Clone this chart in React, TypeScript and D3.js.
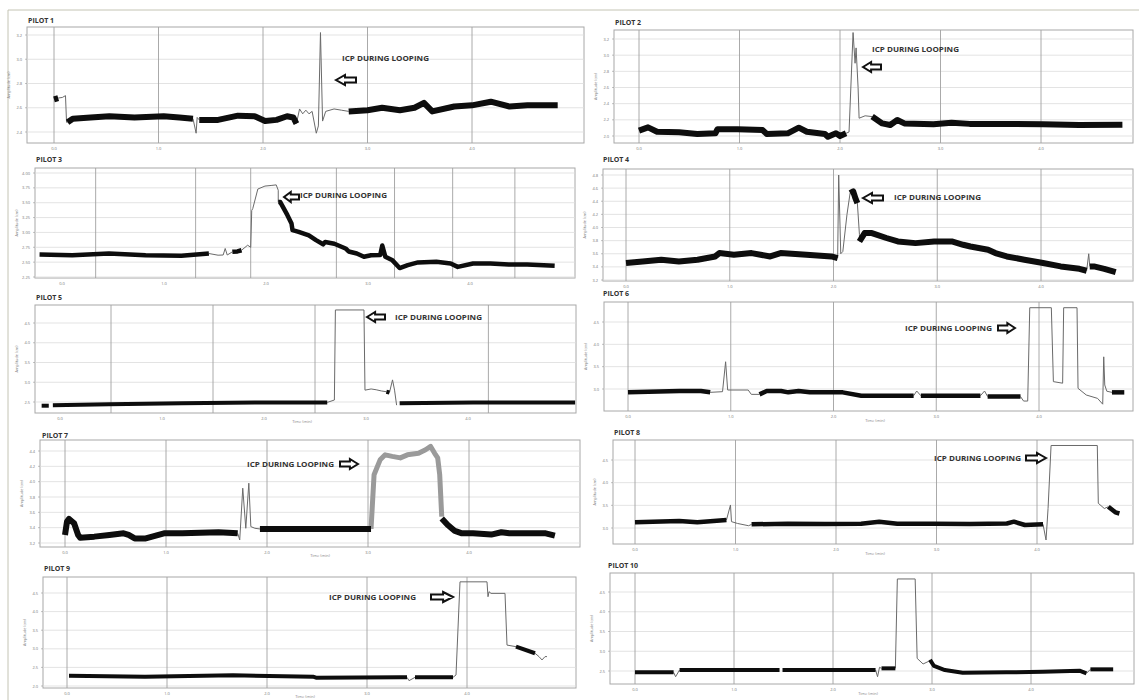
import React from 'react';
import * as d3 from 'd3';

type Pt = [number, number];

const X_TICKS = [0, 1, 2, 3, 4];
const X_TICK_LABELS = ['0.0', '1.0', '2.0', '3.0', '4.0'];
const ANNOTATION = 'ICP DURING LOOPING';
const Y_LABEL = 'Amplitude (cm)';
const X_LABEL = 'Time (min)';

// ---------- Pilot 1 ----------
const p1YTicks = [2.4, 2.6, 2.8, 3.0, 3.2];
const p1Thick: Pt[][] = [
  [[0, 2.67], [0.04, 2.68]],
  [[0.13, 2.48], [0.18, 2.51], [0.35, 2.52], [0.53, 2.53], [0.77, 2.52], [1.05, 2.53], [1.2, 2.52], [1.33, 2.51]],
  [[1.39, 2.5], [1.57, 2.5], [1.76, 2.535], [1.92, 2.53], [2.02, 2.49], [2.13, 2.5], [2.23, 2.53], [2.29, 2.52], [2.32, 2.47]],
  [[2.82, 2.57], [3.0, 2.58], [3.14, 2.6], [3.31, 2.58], [3.45, 2.6], [3.54, 2.64], [3.62, 2.57], [3.83, 2.61], [4.0, 2.62], [4.18, 2.65], [4.36, 2.61], [4.53, 2.62], [4.82, 2.62]],
];
const p1Thin: Pt[][] = [
  [[0.04, 2.68], [0.08, 2.685], [0.11, 2.7], [0.12, 2.48], [0.13, 2.48]],
  [[1.33, 2.51], [1.36, 2.39], [1.37, 2.52], [1.39, 2.5]],
  [[2.32, 2.47], [2.35, 2.59], [2.38, 2.55], [2.41, 2.58], [2.44, 2.55], [2.47, 2.57], [2.51, 2.39], [2.53, 2.45], [2.55, 3.22], [2.57, 2.49], [2.6, 2.57], [2.68, 2.59], [2.75, 2.58], [2.82, 2.57]],
];

// ---------- Pilot 2 ----------
const p2YTicks = [2.0, 2.2, 2.4, 2.6, 2.8, 3.0, 3.2];
const p2Thick: Pt[][] = [
  [[0, 2.066], [0.09, 2.107], [0.18, 2.053], [0.4, 2.045], [0.58, 2.025], [0.76, 2.033], [0.78, 2.082], [0.98, 2.082], [1.23, 2.074], [1.27, 2.025], [1.48, 2.033], [1.59, 2.103], [1.67, 2.053], [1.85, 2.025], [1.88, 1.99], [1.96, 2.033], [2.0, 2.0], [2.06, 2.033]],
  [[2.32, 2.24], [2.42, 2.156], [2.5, 2.136], [2.57, 2.198], [2.64, 2.156], [2.93, 2.144], [3.11, 2.165], [3.29, 2.15], [3.66, 2.15], [4.02, 2.144], [4.38, 2.136], [4.81, 2.14]],
];
const p2Thin: Pt[][] = [
  [[2.06, 2.033], [2.09, 2.05], [2.13, 3.28], [2.15, 2.9], [2.16, 3.09], [2.18, 2.6], [2.19, 2.22], [2.25, 2.25], [2.32, 2.24]],
];

// ---------- Pilot 3 ----------
const p3YTicks = [2.25, 2.5, 2.75, 3.0, 3.25, 3.5, 3.75, 4.0];
const p3GridT = [0.33, 1.31, 1.85, 2.69, 3.26, 3.83, 4.44];
const p3Thick: Pt[][] = [
  [[-0.22, 2.629], [0.1, 2.617], [0.46, 2.645], [0.82, 2.617], [1.17, 2.606], [1.44, 2.645]],
  [[1.67, 2.673], [1.72, 2.68], [1.76, 2.7]],
  [[2.12, 3.51], [2.14, 3.51], [2.21, 3.29], [2.25, 3.15], [2.26, 3.04], [2.32, 3.01], [2.42, 2.95], [2.49, 2.87], [2.56, 2.8], [2.58, 2.84], [2.67, 2.81], [2.78, 2.73], [2.81, 2.68], [2.89, 2.645], [2.96, 2.59], [3.03, 2.617], [3.12, 2.62], [3.14, 2.78], [3.17, 2.59], [3.24, 2.53], [3.31, 2.4], [3.39, 2.45], [3.49, 2.495], [3.67, 2.505], [3.81, 2.478], [3.88, 2.42], [4.03, 2.478], [4.2, 2.478], [4.38, 2.46], [4.56, 2.46], [4.83, 2.44]],
];
const p3Thin: Pt[][] = [
  [[1.44, 2.645], [1.53, 2.617], [1.58, 2.62], [1.6, 2.73], [1.62, 2.62], [1.67, 2.673]],
  [[1.76, 2.7], [1.82, 2.785], [1.85, 2.75], [1.86, 3.37], [1.87, 3.4], [1.92, 3.73], [1.99, 3.78], [2.05, 3.79], [2.1, 3.8], [2.12, 3.71], [2.12, 3.51]],
];

// ---------- Pilot 4 ----------
const p4YTicks = [3.2, 3.4, 3.6, 3.8, 4.0, 4.2, 4.4, 4.6, 4.8];
const p4Thick: Pt[][] = [
  [[0, 3.458], [0.16, 3.483], [0.34, 3.509], [0.51, 3.483], [0.69, 3.509], [0.86, 3.559], [0.9, 3.61], [1.04, 3.585], [1.21, 3.61], [1.39, 3.559], [1.49, 3.61], [1.74, 3.585], [1.98, 3.559], [2.04, 3.534]],
  [[2.16, 4.525], [2.19, 4.55], [2.21, 4.45], [2.23, 4.373]],
  [[2.25, 3.787], [2.3, 3.915], [2.37, 3.915], [2.51, 3.84], [2.62, 3.787], [2.79, 3.762], [2.97, 3.787], [3.14, 3.787], [3.25, 3.737], [3.32, 3.711], [3.49, 3.661], [3.56, 3.61], [3.67, 3.559], [3.84, 3.509], [4.02, 3.458], [4.19, 3.407], [4.37, 3.37], [4.44, 3.341]],
  [[4.47, 3.407], [4.51, 3.407], [4.61, 3.37], [4.72, 3.32]],
];
const p4Thin: Pt[][] = [
  [[2.04, 3.534], [2.05, 4.8], [2.07, 3.6], [2.09, 3.635], [2.13, 4.2], [2.16, 4.525]],
  [[2.23, 4.373], [2.25, 3.89], [2.25, 3.787]],
  [[4.44, 3.341], [4.46, 3.6], [4.47, 3.407]],
];

// ---------- Pilot 5 ----------
const p5YTicks = [2.5, 3.0, 3.5, 4.0, 4.5];
const p5GridT = [0.5, 1.5, 2.5, 4.2];
const p5Thick: Pt[][] = [
  [[-0.18, 2.406], [-0.11, 2.406]],
  [[-0.07, 2.42], [0.48, 2.44], [1.19, 2.466], [1.91, 2.49], [2.62, 2.49]],
  [[3.2, 2.76], [3.23, 2.74]],
  [[3.33, 2.466], [4.05, 2.49], [5.05, 2.49]],
];
const p5Thin: Pt[][] = [
  [[2.62, 2.49], [2.69, 2.55], [2.7, 4.83], [2.98, 4.83], [2.99, 2.8], [3.05, 2.83], [3.1, 2.81], [3.15, 2.78], [3.2, 2.76]],
  [[3.23, 2.74], [3.26, 3.06], [3.28, 2.8], [3.3, 2.42]],
];

// ---------- Pilot 6 ----------
const p6YTicks = [3.0, 3.5, 4.0, 4.5];
const p6Thick: Pt[][] = [
  [[0, 2.925], [0.5, 2.955], [0.71, 2.955], [0.8, 2.925]],
  [[1.28, 2.88], [1.35, 2.955], [1.49, 2.955], [1.56, 2.925], [1.66, 2.955], [1.77, 2.925], [1.91, 2.925], [2.09, 2.925], [2.27, 2.85], [2.78, 2.85]],
  [[2.85, 2.85], [3.43, 2.85]],
  [[3.5, 2.83], [3.82, 2.83]],
  [[4.71, 2.925], [4.83, 2.925]],
];
const p6Thin: Pt[][] = [
  [[0.8, 2.925], [0.92, 2.94], [0.95, 3.61], [0.97, 2.977], [1.17, 2.977], [1.2, 2.88], [1.28, 2.88]],
  [[2.78, 2.85], [2.81, 2.955], [2.85, 2.85]],
  [[3.43, 2.85], [3.47, 2.955], [3.5, 2.83]],
  [[3.82, 2.83], [3.85, 2.73], [3.89, 2.73], [3.91, 4.82], [4.12, 4.82], [4.14, 3.165], [4.23, 3.13], [4.24, 4.82], [4.37, 4.82], [4.38, 3.015], [4.46, 2.866], [4.57, 2.79], [4.62, 2.66], [4.63, 3.72], [4.64, 3.09], [4.66, 2.95], [4.71, 2.925]],
];

// ---------- Pilot 7 ----------
const p7YTicks = [3.2, 3.4, 3.6, 3.8, 4.0, 4.2, 4.4];
const p7Thick: Pt[][] = [
  [[0, 3.305], [0.02, 3.48], [0.04, 3.514], [0.09, 3.457], [0.13, 3.305], [0.15, 3.27], [0.29, 3.283], [0.44, 3.305], [0.58, 3.326], [0.63, 3.305], [0.69, 3.26], [0.8, 3.26], [0.98, 3.326], [1.16, 3.326], [1.52, 3.34], [1.71, 3.326]],
  [[1.93, 3.383], [2.24, 3.383], [2.6, 3.383], [3.03, 3.383]],
  [[3.73, 3.52], [3.79, 3.435], [3.86, 3.357], [3.93, 3.326], [4.04, 3.326], [4.22, 3.31], [4.32, 3.34], [4.4, 3.326], [4.58, 3.326], [4.76, 3.326], [4.85, 3.296]],
];
const p7Thin: Pt[][] = [
  [[1.71, 3.326], [1.73, 3.24], [1.76, 3.915], [1.79, 3.392], [1.82, 3.98], [1.84, 3.414], [1.88, 3.392], [1.93, 3.383]],
];
const p7Band: Pt[][] = [
  [[3.03, 3.383], [3.06, 4.09], [3.12, 4.285], [3.17, 4.35], [3.24, 4.33], [3.32, 4.31], [3.39, 4.35], [3.5, 4.37], [3.57, 4.416], [3.62, 4.46], [3.66, 4.37], [3.69, 4.31], [3.71, 4.09], [3.73, 3.544]],
];

// ---------- Pilot 8 ----------
const p8YTicks = [3.0, 3.5, 4.0, 4.5];
const p8Thick: Pt[][] = [
  [[0, 3.125], [0.44, 3.155], [0.62, 3.125], [0.91, 3.177]],
  [[1.16, 3.08], [1.52, 3.096], [1.89, 3.088], [2.25, 3.096], [2.43, 3.14], [2.61, 3.096], [2.97, 3.096], [3.33, 3.088], [3.7, 3.1], [3.77, 3.14], [3.88, 3.066], [4.06, 3.08]],
  [[4.71, 3.47], [4.78, 3.345], [4.82, 3.32]],
];
const p8Thin: Pt[][] = [
  [[0.91, 3.177], [0.95, 3.508], [0.96, 3.14], [1.02, 3.1], [1.13, 3.05], [1.16, 3.08]],
  [[4.06, 3.08], [4.09, 2.735], [4.11, 3.43], [4.14, 4.82], [4.6, 4.82], [4.61, 3.545], [4.67, 3.43], [4.71, 3.47]],
];

// ---------- Pilot 9 ----------
const p9YTicks = [2.0, 2.5, 3.0, 3.5, 4.0, 4.5];
const p9Thick: Pt[][] = [
  [[0.02, 2.277], [0.78, 2.25], [1.66, 2.287], [2.46, 2.25], [2.49, 2.224], [3.33, 2.233], [3.4, 2.233]],
  [[3.48, 2.233], [3.86, 2.233]],
  [[4.49, 3.057], [4.68, 2.88]],
];
const p9Thin: Pt[][] = [
  [[3.4, 2.233], [3.42, 2.143], [3.48, 2.233]],
  [[3.86, 2.233], [3.89, 2.296], [3.93, 4.8], [4.2, 4.8], [4.21, 4.4], [4.22, 4.535], [4.24, 4.49], [4.38, 4.49], [4.4, 3.1], [4.49, 3.057]],
  [[4.68, 2.88], [4.72, 2.79], [4.75, 2.7], [4.78, 2.79], [4.8, 2.79]],
];

// ---------- Pilot 10 ----------
const p10YTicks = [2.5, 3.0, 3.5, 4.0, 4.5];
const p10Thick: Pt[][] = [
  [[0, 2.466], [0.39, 2.466]],
  [[0.45, 2.525], [1.46, 2.525]],
  [[1.49, 2.525], [1.91, 2.525], [2.43, 2.525]],
  [[2.49, 2.567], [2.63, 2.567]],
  [[2.98, 2.78], [3.02, 2.627], [3.13, 2.525], [3.31, 2.457], [3.75, 2.466], [4.12, 2.483], [4.49, 2.508], [4.56, 2.44]],
  [[4.6, 2.542], [4.83, 2.542]],
];
const p10Thin: Pt[][] = [
  [[0.39, 2.466], [0.41, 2.355], [0.45, 2.525]],
  [[2.43, 2.525], [2.45, 2.355], [2.47, 2.593], [2.49, 2.567]],
  [[2.63, 2.567], [2.65, 4.83], [2.83, 4.83], [2.85, 2.82], [2.91, 2.678], [2.96, 2.737], [2.98, 2.78]],
  [[4.56, 2.44], [4.6, 2.542]],
];

// ---------- layout (pixels / styles) ----------
type Panel = {
  title: string; tx: number; ty: number;
  box: [number, number, number, number];
  xr: [number, number]; yd: [number, number]; yr: [number, number];
  yTicks: number[]; yFmt: string; grid: number[];
  thick: Pt[][]; thin: Pt[][]; band?: Pt[][]; w: number;
  ann?: { x: number; y: number; ax: number; ay: number; dir: 'l' | 'r'; len: number };
  xLabel?: [number, number];
};

const PANELS: Panel[] = [
  { title: 'PILOT 1', tx: 28, ty: 23, box: [27, 27, 584, 143], xr: [54, 472], yd: [2.4, 3.2], yr: [132, 35], yTicks: p1YTicks, yFmt: '.1f', grid: X_TICKS, thick: p1Thick, thin: p1Thin, w: 6,
    ann: { x: 342, y: 58, ax: 336, ay: 80, dir: 'l', len: 20 } },
  { title: 'PILOT 2', tx: 615, ty: 25, box: [614, 30, 1133, 143], xr: [639, 1041], yd: [2.0, 3.2], yr: [136, 39], yTicks: p2YTicks, yFmt: '.1f', grid: X_TICKS, thick: p2Thick, thin: p2Thin, w: 6,
    ann: { x: 872, y: 49, ax: 863, ay: 67, dir: 'l', len: 18 } },
  { title: 'PILOT 3', tx: 36, ty: 162, box: [35, 168, 575, 278], xr: [62, 470], yd: [2.25, 4.0], yr: [277, 173], yTicks: p3YTicks, yFmt: '.2f', grid: p3GridT, thick: p3Thick, thin: p3Thin, w: 4.5,
    ann: { x: 300, y: 195, ax: 284, ay: 197, dir: 'l', len: 15 } },
  { title: 'PILOT 4', tx: 603, ty: 162, box: [603, 169, 1133, 281], xr: [626, 1041], yd: [3.2, 4.8], yr: [280, 175], yTicks: p4YTicks, yFmt: '.1f', grid: X_TICKS, thick: p4Thick, thin: p4Thin, w: 6,
    ann: { x: 894, y: 197, ax: 863, ay: 198, dir: 'l', len: 20 } },
  { title: 'PILOT 5', tx: 36, ty: 300, box: [35, 305, 576, 413], xr: [60, 468], yd: [2.5, 4.5], yr: [402, 323], yTicks: p5YTicks, yFmt: '.1f', grid: p5GridT, thick: p5Thick, thin: p5Thin, w: 4,
    ann: { x: 395, y: 317, ax: 367, ay: 317, dir: 'l', len: 18 }, xLabel: [302, 423] },
  { title: 'PILOT 6', tx: 603, ty: 296, box: [604, 302, 1133, 411], xr: [628, 1039], yd: [3.0, 4.5], yr: [389, 322], yTicks: p6YTicks, yFmt: '.1f', grid: X_TICKS, thick: p6Thick, thin: p6Thin, w: 4.5,
    ann: { x: 905, y: 328, ax: 1015, ay: 328, dir: 'r', len: 17 }, xLabel: [875, 422] },
  { title: 'PILOT 7', tx: 42, ty: 438, box: [40, 440, 580, 547], xr: [65, 469], yd: [3.2, 4.4], yr: [543, 451], yTicks: p7YTicks, yFmt: '.1f', grid: X_TICKS, thick: p7Thick, thin: p7Thin, band: p7Band, w: 6,
    ann: { x: 247, y: 464, ax: 358, ay: 464, dir: 'r', len: 18 }, xLabel: [320, 557] },
  { title: 'PILOT 8', tx: 614, ty: 435, box: [613, 440, 1133, 544], xr: [635, 1037], yd: [3.0, 4.5], yr: [528, 460], yTicks: p8YTicks, yFmt: '.1f', grid: X_TICKS, thick: p8Thick, thin: p8Thin, w: 4.5,
    ann: { x: 934, y: 458, ax: 1046, ay: 458, dir: 'r', len: 20 }, xLabel: [875, 555] },
  { title: 'PILOT 9', tx: 44, ty: 571, box: [43, 577, 576, 688], xr: [67, 467], yd: [2.0, 4.5], yr: [686, 593], yTicks: p9YTicks, yFmt: '.1f', grid: X_TICKS, thick: p9Thick, thin: p9Thin, w: 4,
    ann: { x: 329, y: 597, ax: 453, ay: 597, dir: 'r', len: 22 }, xLabel: [305, 698] },
  { title: 'PILOT 10', tx: 608, ty: 568, box: [610, 573, 1134, 684], xr: [635, 1031], yd: [2.5, 4.5], yr: [671, 592], yTicks: p10YTicks, yFmt: '.1f', grid: X_TICKS, thick: p10Thick, thin: p10Thin, w: 4,
    xLabel: [868, 695] },
];

const FONT = '"Open Sans", "DejaVu Sans", sans-serif';

function arrowPath(tipX: number, cy: number, len: number, dir: 'l' | 'r') {
  const s = dir === 'l' ? 1 : -1;
  const h = len * 0.45;
  const hh = 5;
  const sh = 2.6;
  const p = (dx: number, dy: number) => `${tipX + s * dx},${cy + dy}`;
  return `M${p(0, 0)}L${p(h, -hh)}L${p(h, -sh)}L${p(len, -sh)}L${p(len, sh)}L${p(h, sh)}L${p(h, hh)}Z`;
}

function PanelView({ p, i }: { p: Panel; i: number }) {
  const [l, t, r, b] = p.box;
  const x = d3.scaleLinear().domain([0, 4]).range(p.xr);
  const y = d3.scaleLinear().domain(p.yd).range(p.yr);
  const line = d3.line<Pt>().x((d) => x(d[0])).y((d) => y(d[1])).curve(d3.curveLinear);
  const fmt = d3.format(p.yFmt);
  const clipId = `clip${i}`;
  const midY = (t + b) / 2;
  return (
    <g>
      <defs>
        <clipPath id={clipId}>
          <rect x={l} y={t} width={r - l} height={b - t} />
        </clipPath>
      </defs>
      <text x={p.tx} y={p.ty} fontFamily={FONT} fontWeight={700} fontSize={7} fill="#333">{p.title}</text>
      <rect x={l} y={t} width={r - l} height={b - t} fill="#fff" stroke="#a8a8a8" strokeWidth={1} />
      {p.yTicks.map((v) => (
        <g key={'h' + v}>
          <line x1={l} x2={r} y1={y(v)} y2={y(v)} stroke="#dcdcdc" strokeWidth={0.8} />
          <line x1={l - 2} x2={l} y1={y(v)} y2={y(v)} stroke="#999" strokeWidth={0.6} />
          <text x={l - 5} y={y(v) + 1.5} textAnchor="end" fontFamily={FONT} fontSize={4} fill="#777">{fmt(v)}</text>
        </g>
      ))}
      {p.grid.map((g) => (
        <line key={'v' + g} x1={x(g)} x2={x(g)} y1={t} y2={b} stroke="#a0a0a0" strokeWidth={0.9} />
      ))}
      {X_TICKS.map((tv, k) => (
        <text key={'xt' + tv} x={x(tv)} y={b + 6.5} textAnchor="middle" fontFamily={FONT} fontSize={4} fill="#777">{X_TICK_LABELS[k]}</text>
      ))}
      <text transform={`translate(${l - 17},${midY}) rotate(-90)`} textAnchor="middle" fontFamily={FONT} fontSize={3.8} fill="#777">{Y_LABEL}</text>
      {p.xLabel && (
        <text x={p.xLabel[0]} y={p.xLabel[1]} textAnchor="middle" fontFamily={FONT} fontSize={4} fill="#888">{X_LABEL}</text>
      )}
      <g clipPath={`url(#${clipId})`}>
        {(p.band || []).map((seg, k) => (
          <path key={'b' + k} d={line(seg) || ''} fill="none" stroke="#9a9a9a" strokeWidth={5} strokeLinejoin="round" />
        ))}
        {p.thin.map((seg, k) => (
          <path key={'n' + k} d={line(seg) || ''} fill="none" stroke="#6a6a6a" strokeWidth={1} strokeLinejoin="round" />
        ))}
        {p.thick.map((seg, k) => (
          <path key={'k' + k} d={line(seg) || ''} fill="none" stroke="#0d0d0d" strokeWidth={p.w} strokeLinejoin="round" strokeLinecap="butt" />
        ))}
      </g>
      {p.ann && (
        <g>
          <text x={p.ann.x} y={p.ann.y + 2.5} fontFamily={FONT} fontWeight={700} fontSize={7} fill="#333" textLength={87} lengthAdjust="spacingAndGlyphs">{ANNOTATION}</text>
          <path d={arrowPath(p.ann.ax, p.ann.ay, p.ann.len, p.ann.dir)} fill="#fff" stroke="#111" strokeWidth={2} strokeLinejoin="miter" />
        </g>
      )}
    </g>
  );
}

export default function App() {
  return (
    <svg width={1139} height={700} style={{ position: 'absolute', left: 0, top: 0, background: '#fff' }}>
      <rect x={0} y={0} width={1139} height={700} fill="#fff" />
      <line x1={8} x2={1139} y1={10} y2={10} stroke="#c4c4b4" strokeWidth={1} />
      <line x1={8} x2={8} y1={10} y2={700} stroke="#c4c4b4" strokeWidth={1} />
      {PANELS.map((p, i) => (
        <PanelView key={p.title} p={p} i={i} />
      ))}
    </svg>
  );
}
